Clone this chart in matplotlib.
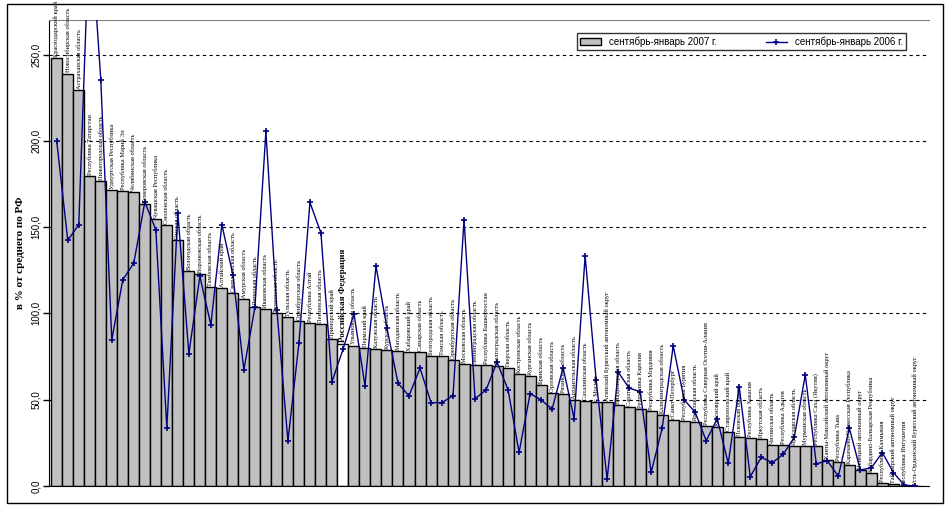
import numpy as np
import matplotlib.pyplot as plt
from matplotlib.patches import Rectangle

# regions, sorted by the 2007 value
regions = [
    "Краснодарский край", "Новосибирская область", "Астраханская область",
    "Республика Татарстан", "Нижегородская область", "Удмуртская Республика",
    "Республика Марий Эл", "Челябинская область", "Кемеровская область",
    "Чувашская Республика", "Смоленская область", "Омская область",
    "Вологодская область", "Воронежская область", "Тамбовская область",
    "Алтайский край", "Свердловская область", "Амурская область",
    "Липецкая область", "Ивановская область", "Тюменская область",
    "Тульская область", "Оренбургская область", "Республика Алтай",
    "Пензенская область", "Приморский край", "Российская Федерация",
    "Ульяновская область", "Пермский край", "Калужская область",
    "Курская область", "Магаданская область", "Хабаровский край",
    "Самарская область", "Белгородская область", "Томская область",
    "Оренбургская область", "Московская область", "Ленинградская область",
    "Республика Башкортостан", "Волгоградская область", "Тверская область",
    "Костромская область", "Курганская область", "Брянская область",
    "Орловская область", "Рязанская область", "Архангельская область",
    "Сахалинская область", "г. Москва", "Агинский Бурятский автономный округ",
    "Владимирская область", "Саратовская область", "Республика Карелия",
    "Республика Мордовия", "Калининградская область", "г.Санкт-Петербург",
    "Республика Бурятия", "Ярославская область", "Республика Северная Осетия-Алания",
    "Красноярский край", "Ставропольский край", "Псковская область",
    "Республика Хакасия", "Иркутская область", "Читинская область",
    "Республика Адыгея", "Ярославская область", "Мурманская область",
    "Республика Саха (Якутия)", "Ханты-Мансийский автономный округ",
    "Республика Тыва", "Карачаево-Черкесская Республика",
    "Ненецкий автономный округ", "Кабардино-Балкарская Республика",
    "Республика Калмыкия", "Таймырский автономный округ",
    "Республика Ингушетия", "Усть-Ордынский Бурятский автономный округ",
]

# сентябрь-январь 2007 г. (bars)
v2007 = [
    248.0, 239.0, 229.7, 179.8, 176.5, 171.7, 171.1, 170.5, 163.6, 154.9,
    151.3, 142.7, 124.7, 123.0, 115.3, 114.7, 111.7, 108.3, 104.0, 102.5,
    100.2, 97.8, 95.7, 94.4, 93.8, 85.2, 82.2, 81.4, 79.9, 79.3,
    78.7, 78.1, 77.5, 77.5, 75.4, 75.4, 72.9, 70.8, 70.2, 70.2,
    69.8, 68.3, 65.0, 63.7, 58.6, 53.8, 53.2, 49.9, 49.5, 48.9,
    48.5, 47.0, 45.6, 44.5, 43.7, 41.2, 38.3, 37.7, 36.9, 35.0,
    34.4, 31.1, 28.2, 27.6, 27.1, 23.6, 23.6, 23.0, 23.0, 23.0,
    14.8, 13.7, 12.0, 9.4, 7.4, 1.8, 1.1, 0.0, 0.0,
]

# сентябрь-январь 2006 г. (line)
v2006 = [
    199.7, 142.3, 151.4, 330.0, 235.5, 84.7, 119.5, 129.2, 164.5, 148.5,
    33.6, 158.2, 76.6, 121.4, 93.4, 151.4, 122.4, 67.3, 103.5, 205.5,
    102.0, 26.0, 82.7, 164.3, 146.6, 60.4, 79.1, 99.9, 58.1, 127.5,
    91.5, 59.6, 52.2, 68.3, 48.3, 48.3, 52.4, 154.3, 50.5, 55.7,
    71.8, 55.7, 19.5, 53.5, 49.9, 44.5, 68.6, 38.9, 133.4, 61.5,
    3.9, 66.0, 56.7, 54.7, 7.9, 33.5, 81.2, 49.9, 42.7, 26.2,
    39.0, 13.1, 57.6, 5.4, 16.6, 13.5, 18.4, 28.2, 64.4, 12.8,
    14.7, 5.6, 33.5, 9.3, 10.5, 19.4, 7.8, 0.5, 0.0,
]

rf_name = "Российская Федерация"
yticks = [0, 50, 100, 150, 200, 250]

fig = plt.figure(figsize=(9.51, 5.09), dpi=100)
# outer chart border
fig.patches.append(Rectangle((0.007, 0.012), 0.985, 0.98, transform=fig.transFigure,
                             fill=False, edgecolor="black", linewidth=1))
ax = fig.add_axes([0.0518, 0.0452, 0.9252, 0.9155])

x = np.arange(len(regions))
colors = ["white" if r == rf_name else "#c0c0c0" for r in regions]
bars = ax.bar(x, v2007, width=1.0, color=colors, edgecolor="black", linewidth=1.0,
              label="сентябрь-январь 2007 г.", zorder=2)
line, = ax.plot(x, v2006, color="#000080", linewidth=1.0, marker="+", markersize=4,
                markeredgewidth=1.2, label="сентябрь-январь 2006 г.", zorder=3)

# vertical region labels above the bars
for i, (name, val) in enumerate(zip(regions, v2007)):
    if name == rf_name:
        ax.text(i, val + 1.0, name, rotation=90, ha="center", va="bottom",
                fontsize=6.5, fontweight="bold", family="Liberation Serif",
                clip_on=False, zorder=4)
    else:
        ax.text(i, val + 0.6, name, rotation=90, ha="center", va="bottom",
                fontsize=4.6, family="Liberation Serif", clip_on=False, zorder=4)

ax.set_xlim(-0.68, 79.25)
ax.set_ylim(0, 270)
ax.set_xticks([])
ax.set_yticks(yticks)
ax.set_yticklabels([f"{t:.1f}".replace(".", ",") for t in yticks],
                   rotation=90, va="center", fontsize=7, family="Liberation Sans")
ax.tick_params(axis="y", length=4, width=1, pad=2)
ax.yaxis.grid(True, linestyle=(0, (3, 3)), color="black", linewidth=0.8)
ax.set_axisbelow(True)
ax.spines["right"].set_visible(False)
ax.spines["top"].set_color("#808080")
ax.set_ylabel("в % от среднего по РФ", fontsize=8, fontweight="bold",
              family="Liberation Serif", labelpad=4)

leg = ax.legend([bars, line], ["сентябрь-январь 2007 г.", "сентябрь-январь 2006 г."],
                loc="upper right", bbox_to_anchor=(0.974, 0.972), ncol=2,
                frameon=True, fancybox=False, handlelength=2.2, handleheight=0.6,
                columnspacing=5, borderpad=0.35, borderaxespad=0,
                prop={"family": "Liberation Sans", "size": 7})
leg.get_frame().set_edgecolor("black")
leg.get_frame().set_linewidth(1)

fig.savefig("out.png", dpi=100)
